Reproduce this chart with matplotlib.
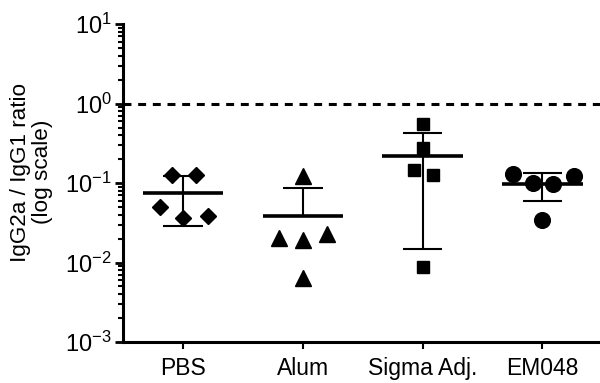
import numpy as np
import matplotlib
matplotlib.use("Agg")
import matplotlib.pyplot as plt

plt.rcParams['font.family'] = ['Liberation Sans', 'DejaVu Sans']
plt.rcParams['mathtext.fontset'] = 'custom'
plt.rcParams['mathtext.rm'] = 'Liberation Sans'
plt.rcParams['mathtext.default'] = 'regular'

# data
groups = ['PBS', 'Alum', 'Sigma Adj.', 'EM048']
pbs = [0.126, 0.126, 0.050, 0.036, 0.0385]
alum = [0.1225, 0.0201, 0.0192, 0.0226, 0.0063]
sigma = [0.547, 0.273, 0.146, 0.126, 0.0087]
em048 = [0.130, 0.101, 0.0972, 0.1225, 0.0343]
values = [pbs, alum, sigma, em048]

# horizontal scatter of the points inside each group
jitter = [[-0.095, 0.11, -0.19, 0.0, 0.21],
          [0.0, -0.2, 0.0, 0.2, 0.0],
          [0.0, 0.0, -0.075, 0.085, 0.0],
          [-0.25, -0.075, 0.085, 0.26, 0.0]]
markers = ['D', '^', 's', 'o']
msizes = [8.6, 12, 9.3, 11.3]

fig = plt.figure(figsize=(6, 3.83), dpi=100)
ax = fig.add_axes([0.205, 0.107, 0.795, 0.83])

for i, (vals, m, ms) in enumerate(zip(values, markers, msizes)):
    v = np.array(vals)
    mean = v.mean()
    sd = v.std(ddof=1)
    hi = mean + sd
    lo = mean - sd
    # error bar (lower part omitted if it falls below zero)
    if lo > 0:
        ax.vlines(i, lo, hi, color='black', lw=1.5, zorder=2)
        ax.hlines(lo, i - 0.165, i + 0.165, color='black', lw=1.5, zorder=2)
    else:
        ax.vlines(i, mean, hi, color='black', lw=1.5, zorder=2)
    ax.hlines(hi, i - 0.165, i + 0.165, color='black', lw=1.5, zorder=2)
    ax.hlines(mean, i - 0.335, i + 0.335, color='black', lw=2.6, zorder=2)
    ax.plot(i + np.array(jitter[i]), v, linestyle='none', marker=m,
            markersize=ms, color='black', zorder=3)

ax.axhline(1.0, color='black', lw=2.2, linestyle=(0, (2.6, 2.2)), zorder=1)

ax.set_yscale('log')
ax.set_ylim(1e-3, 1e1)
ax.set_xlim(-0.5, 3.48)
ax.set_yticks([1e-3, 1e-2, 1e-1, 1e0, 1e1])
ax.set_yticklabels([r'$10^{-3}$', r'$10^{-2}$', r'$10^{-1}$', r'$10^{0}$', r'$10^{1}$'])
ax.set_xticks(range(len(groups)))
ax.set_xticklabels(groups)

for s in ['top', 'right']:
    ax.spines[s].set_visible(False)
for s in ['left', 'bottom']:
    ax.spines[s].set_linewidth(2.2)

ax.tick_params(axis='y', which='major', length=6, width=2, labelsize=17, pad=2)
ax.tick_params(axis='y', which='minor', length=3.5, width=1.5)
ax.tick_params(axis='x', length=5, width=1.5, labelsize=16.5, pad=6)

fig.text(0.053, 1 - 172 / 383, 'IgG2a / IgG1 ratio\n(log scale)', rotation=90,
         ha='center', va='center', multialignment='center', fontsize=16.2,
         linespacing=1.05)

fig.savefig('out.png', dpi=100)
